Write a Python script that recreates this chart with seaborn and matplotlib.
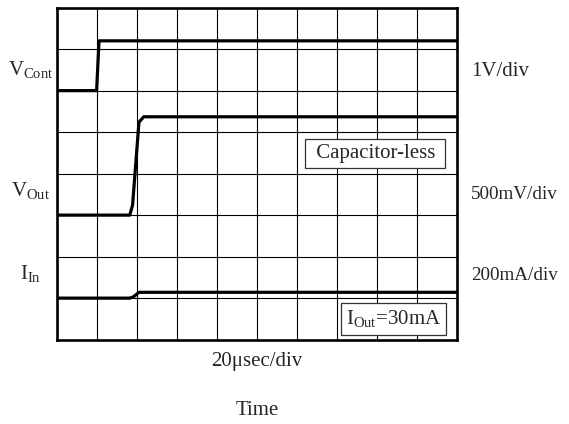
"""Scope-style timing chart: V_Cont, V_Out and I_In step responses."""

import matplotlib

matplotlib.use("Agg")
import matplotlib.pyplot as plt
import pandas as pd
import seaborn as sns

# Traces in scope divisions (x: 10 div of time, y: 8 div)
vcont_t = [0.0, 0.98, 1.04, 10.0]
vcont_v = [6.0, 6.0, 7.2, 7.2]

vout_t = [0.0, 1.81, 1.88, 2.04, 2.16, 10.0]
vout_v = [3.0, 3.0, 3.24, 5.24, 5.37, 5.37]

iin_t = [0.0, 1.81, 1.90, 2.04, 10.0]
iin_v = [1.0, 1.0, 1.03, 1.14, 1.14]

trace_labels = [r"$\mathrm{V_{Cont}}$", r"$\mathrm{V_{Out}}$", r"$\mathrm{I_{In}}$"]
trace_label_y = [6.5, 3.6, 1.6]
scale_labels = ["1V/div", "500mV/div", "200mA/div"]
scale_label_y = [6.45, 3.5, 1.55]
scale_label_size = [15, 13.8, 13.8]

sns.set_style("white")
plt.rcParams["font.family"] = ["Liberation Serif", "DejaVu Serif"]
plt.rcParams["mathtext.fontset"] = "custom"
plt.rcParams["mathtext.rm"] = "Liberation Serif"
plt.rcParams["mathtext.it"] = "Liberation Serif:italic"

fig = plt.figure(figsize=(5.69, 4.24), dpi=100)
ax = fig.add_axes([0.101, 0.199, 0.702, 0.783])

traces = [(vcont_t, vcont_v), (vout_t, vout_v), (iin_t, iin_v)]
for t, v in traces:
    df = pd.DataFrame({"t": t, "v": v})
    sns.lineplot(data=df, x="t", y="v", ax=ax, color="black", linewidth=2.3,
                 sort=False, estimator=None, zorder=3)

ax.set_xlim(0, 10)
ax.set_ylim(0, 8)
ax.set_xticks(range(11))
ax.set_yticks(range(9))
ax.grid(True, color="black", linewidth=0.8)
ax.tick_params(length=0, labelbottom=False, labelleft=False)
for s in ax.spines.values():
    s.set_linewidth(1.9)
    s.set_color("black")
ax.set_ylabel("")
ax.set_xlabel("Time", fontsize=15, labelpad=44)

for lab, y in zip(trace_labels, trace_label_y):
    ax.text(-0.68, y, lab, fontsize=15, ha="center", va="center")
for lab, y, fs in zip(scale_labels, scale_label_y, scale_label_size):
    ax.text(10.36, y, lab, fontsize=fs, ha="left", va="center")

ax.text(5.0, -0.52, "20\u03bcsec/div", fontsize=15, ha="center", va="center")

box = dict(boxstyle="square,pad=0.25", facecolor="white", edgecolor="#333333", linewidth=0.9)
ax.text(7.96, 4.49, " Capacitor-less ", fontsize=15, ha="center", va="center", bbox=box, zorder=5)
ax.text(8.41, 0.5, r"$\mathrm{I_{Out}}$=30mA", fontsize=15, ha="center", va="center", bbox=box, zorder=5)

fig.savefig("out.png", dpi=100)
